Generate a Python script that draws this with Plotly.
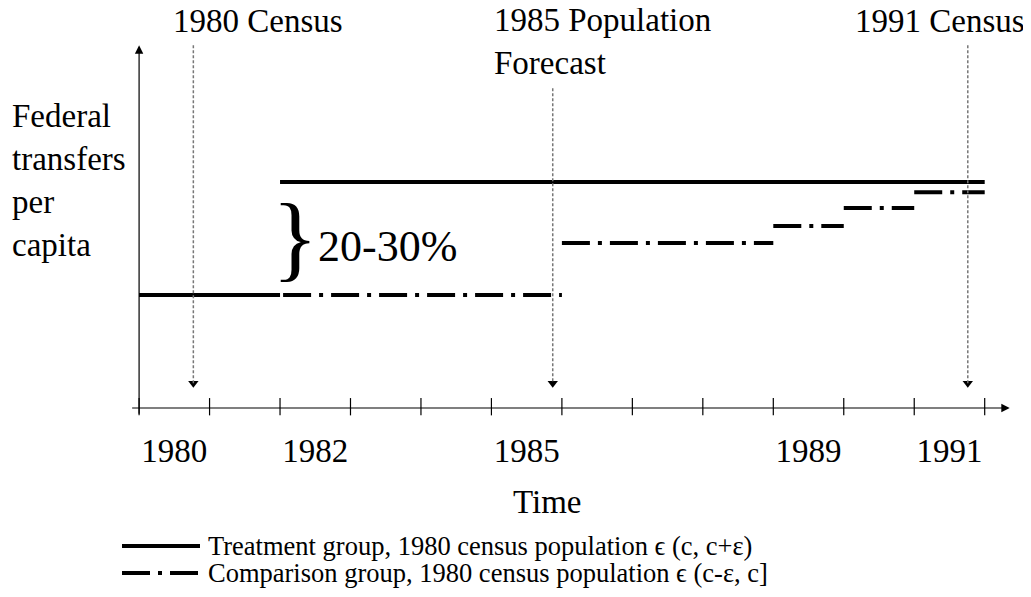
import plotly.graph_objects as go

# year boundaries (ticks sit between years, labels sit in the middle of a year)
year_bounds = list(range(1980, 1993))
labeled_years = [1980, 1982, 1985, 1989, 1991]

# treatment group: step segments (start, end, level)
treat_start = [1980, 1982]
treat_end = [1982, 1992]
treat_level = [100, 200]

# comparison group: step segments
comp_start = [1980, 1986, 1989, 1990, 1991]
comp_end = [1986, 1989, 1990, 1991, 1992]
comp_level = [100, 146, 161, 177, 191]

# events marked with dotted arrows
event_text = ['1980 Census', '1985 Population<br>Forecast', '1991 Census']
event_date = [1980.77, 1985.87, 1991.76]
event_top = [321, 283, 321]

treat_name = 'Treatment group, 1980 census population \u03f5 (c, c+\u03b5)'
comp_name = 'Comparison group, 1980 census population \u03f5 (c-\u03b5, c]'

FONT = 'Liberation Serif'
DASHDOT = '28px,8px,4px,8px'

# the page body adds an 8px offset; positions below are in screen pixels
OFF = 8
W, H = 1031 - OFF, 597 - OFF
L, R, T, B = 125 - OFF, 1015 - OFF, 45 - OFF, 420 - OFF


def px(x):
    return (x - OFF - L) / (R - L)


def py(y):
    return (B - (y - OFF)) / (B - T)


def segments(starts, ends, levels):
    xs, ys = [], []
    for s, e, v in zip(starts, ends, levels):
        xs += [s, e, None]
        ys += [v, v, None]
    return xs, ys


fig = go.Figure()

# tick marks crossing the time axis
tx, ty = [], []
for b in year_bounds:
    tx += [b, b, None]
    ty += [-6.5, 8.8, None]
fig.add_trace(go.Scatter(x=tx, y=ty, mode='lines', line=dict(color='black', width=1.2),
                         hoverinfo='skip', showlegend=False))

# dotted event lines
for d, top in zip(event_date, event_top):
    fig.add_shape(type='line', x0=d, x1=d, y0=top, y1=22, xref='x', yref='y',
                  line=dict(color='#777777', width=1.5, dash='3px,2px'))
fig.add_trace(go.Scatter(x=event_date, y=[22] * len(event_date), mode='markers',
                         marker=dict(symbol='triangle-down', size=9, color='black'),
                         hoverinfo='skip', showlegend=False))

cx, cy = segments(comp_start, comp_end, comp_level)
fig.add_trace(go.Scatter(x=cx, y=cy, mode='lines', name=comp_name,
                         line=dict(color='black', width=4, dash=DASHDOT), showlegend=False))
sx, sy = segments(treat_start, treat_end, treat_level)
fig.add_trace(go.Scatter(x=sx, y=sy, mode='lines', name=treat_name,
                         line=dict(color='black', width=4), showlegend=False))

annotations = []
# axis arrows
annotations.append(dict(x=1992.355, y=0, ax=1979.88, ay=0, xref='x', yref='y', axref='x', ayref='y',
                        text='', showarrow=True, arrowhead=2, arrowsize=1.4, arrowwidth=1.2,
                        arrowcolor='black'))
annotations.append(dict(x=1980, y=321, ax=1980, ay=-6.5, xref='x', yref='y', axref='x', ayref='y',
                        text='', showarrow=True, arrowhead=2, arrowsize=1.4, arrowwidth=1.2,
                        arrowcolor='black'))

# event labels
annotations.append(dict(x=px(258), y=py(21), xref='paper', yref='paper', text=event_text[0],
                        showarrow=False, xanchor='center', yanchor='middle', font=dict(size=33)))
annotations.append(dict(x=px(492), y=py(41), xref='paper', yref='paper', text=event_text[1],
                        showarrow=False, xanchor='left', yanchor='middle', align='left', font=dict(size=33)))
annotations.append(dict(x=px(940), y=py(21), xref='paper', yref='paper', text=event_text[2],
                        showarrow=False, xanchor='center', yanchor='middle', font=dict(size=33)))

# y label
annotations.append(dict(x=px(10), y=py(180), xref='paper', yref='paper',
                        text='Federal<br>transfers<br>per<br>capita', showarrow=False,
                        xanchor='left', yanchor='middle', align='left', font=dict(size=33)))

# brace and gap
annotations.append(dict(x=px(295), y=py(236), xref='paper', yref='paper', text='}',
                        showarrow=False, xanchor='center', yanchor='middle', font=dict(size=96)))
annotations.append(dict(x=px(316), y=py(246), xref='paper', yref='paper', text='20-30%',
                        showarrow=False, xanchor='left', yanchor='middle', font=dict(size=44)))

# x title
annotations.append(dict(x=px(547), y=py(502), xref='paper', yref='paper', text='Time',
                        showarrow=False, xanchor='center', yanchor='middle', font=dict(size=33)))

# legend drawn below the chart
for i, (name, dash) in enumerate([(treat_name, 'solid'), (comp_name, DASHDOT)]):
    ypos = 546 + 27 * i
    fig.add_shape(type='line', x0=px(122), x1=px(200), y0=py(ypos), y1=py(ypos),
                  xref='paper', yref='paper', line=dict(color='black', width=4, dash=dash))
    annotations.append(dict(x=px(206), y=py(ypos), xref='paper', yref='paper', text=name,
                            showarrow=False, xanchor='left', yanchor='middle', font=dict(size=26.5)))

fig.update_layout(
    width=W, height=H,
    margin=dict(l=L, r=W - R, t=T, b=H - B),
    paper_bgcolor='white', plot_bgcolor='white',
    font=dict(family=FONT, color='black'),
    showlegend=False,
    annotations=annotations,
    xaxis=dict(range=[1979.80, 1992.43], showgrid=False, zeroline=False, showline=False,
               tickvals=[y + 0.5 for y in labeled_years], ticktext=[str(y) for y in labeled_years],
               ticks='', tickfont=dict(size=33, family=FONT), ticklabelstandoff=8),
    yaxis=dict(range=[-10.6, 321.2], visible=False),
)

fig.write_html('out.html')
